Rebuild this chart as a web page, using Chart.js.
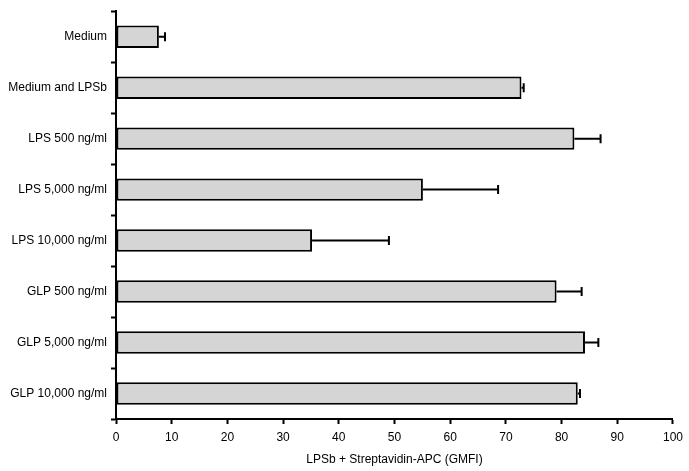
<!DOCTYPE html>
<html>
<head>
<meta charset="utf-8">
<script src="https://cdn.jsdelivr.net/npm/chart.js@4"></script>
<style>
  body { margin: 0; background: #fff; }
</style>
</head>
<body>
<canvas id="gmfiChart" width="689" height="471"></canvas>
<script>
const categories = [
    "Medium",
    "Medium and LPSb",
    "LPS 500 ng/ml",
    "LPS 5,000 ng/ml",
    "LPS 10,000 ng/ml",
    "GLP 500 ng/ml",
    "GLP 5,000 ng/ml",
    "GLP 10,000 ng/ml"
];
const gmfiValues = [7.7, 72.8, 82.3, 55.1, 35.2, 79.1, 84.2, 82.9];
const gmfiErrors = [1.1, 0.4, 4.7, 13.5, 13.8, 4.5, 2.4, 0.4];
const xTicks = [0, 10, 20, 30, 40, 50, 60, 70, 80, 90, 100];

// error bars, drawn only to the right of each bar
const errorBars = {
    id: "errorBars",
    afterDatasetsDraw(chart) {
        const ctx = chart.ctx;
        const xScale = chart.scales.x;
        const meta = chart.getDatasetMeta(0);
        ctx.save();
        ctx.strokeStyle = "#000";
        ctx.lineWidth = 2;
        meta.data.forEach((bar, i) => {
            const x0 = xScale.getPixelForValue(gmfiValues[i]);
            const x1 = xScale.getPixelForValue(gmfiValues[i] + gmfiErrors[i]);
            const y = bar.y;
            ctx.beginPath();
            ctx.moveTo(x0, y);
            ctx.lineTo(x1, y);
            ctx.moveTo(x1, y - 4.5);
            ctx.lineTo(x1, y + 4.5);
            ctx.stroke();
        });
        ctx.restore();
    }
};

new Chart("gmfiChart", {
    type: "bar",
    data: {
        labels: categories,
        datasets: [{
            data: gmfiValues,
            backgroundColor: "#d5d5d5",
            borderColor: "#000",
            borderWidth: 2,
            borderSkipped: false,
            barPercentage: 0.44,
            categoryPercentage: 1
        }]
    },
    options: {
        indexAxis: "y",
        responsive: false,
        animation: false,
        layout: {
            padding: { left: 0, right: 15, top: 3, bottom: 0 }
        },
        plugins: {
            legend: { display: false },
            tooltip: { enabled: false }
        },
        scales: {
            x: {
                min: 0,
                max: 100,
                afterBuildTicks: (scale) => {
                    scale.ticks = xTicks.map(v => ({ value: v }));
                },
                afterFit: (scale) => { scale.height = 52; },
                border: { color: "#000", width: 2 },
                grid: {
                    drawOnChartArea: false,
                    tickLength: 5,
                    tickWidth: 2,
                    color: "#000"
                },
                ticks: {
                    color: "#000",
                    padding: 6,
                    maxRotation: 0,
                    font: { family: "Liberation Sans", size: 12 }
                },
                title: {
                    display: true,
                    text: "LPSb + Streptavidin-APC (GMFI)",
                    color: "#000",
                    padding: { top: 1, bottom: 4 },
                    font: { family: "Liberation Sans", size: 12 }
                }
            },
            y: {
                afterFit: (scale) => { scale.width = 116; },
                border: { color: "#000", width: 2 },
                grid: {
                    offset: true,
                    drawOnChartArea: false,
                    tickLength: 5,
                    tickWidth: 2,
                    color: "#000"
                },
                ticks: {
                    color: "#000",
                    padding: 4,
                    font: { family: "Liberation Sans", size: 12 }
                }
            }
        }
    },
    plugins: [errorBars]
});
</script>
</body>
</html>
